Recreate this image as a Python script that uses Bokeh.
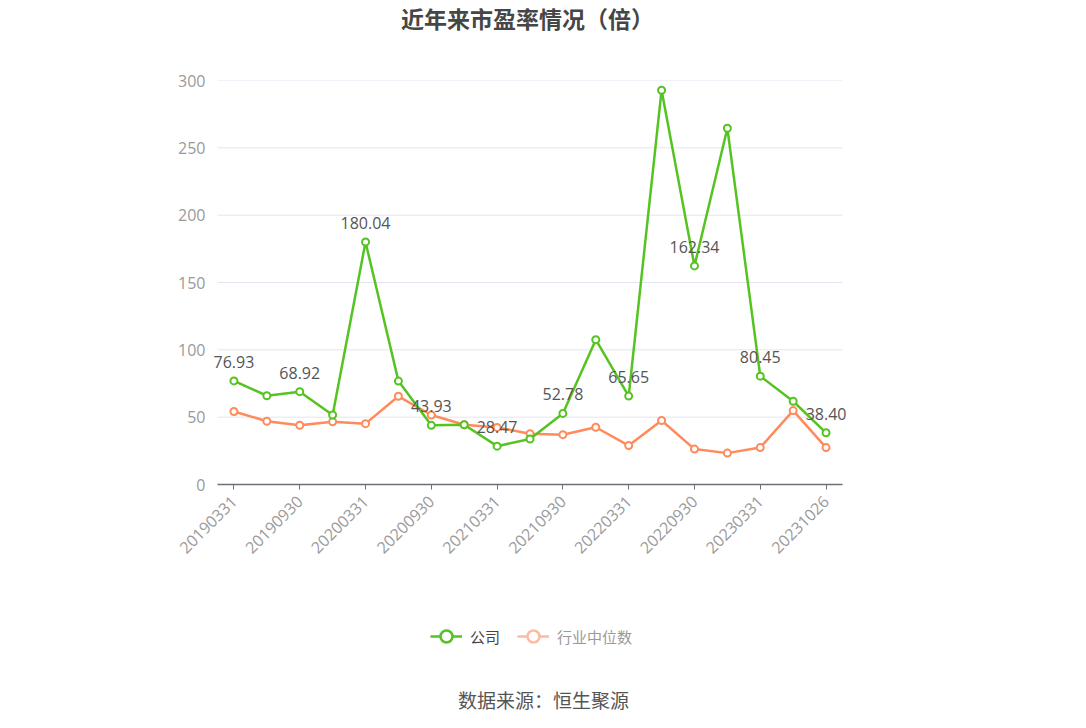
import math
from bokeh.plotting import figure
from bokeh.layouts import column
from bokeh.models import (ColumnDataSource, FixedTicker, Label, Legend, LegendItem, Range1d)
from bokeh.core.properties import value
from bokeh.embed import file_html
from bokeh.resources import INLINE

# ---- data ----
dates = ["20190331", "20190630", "20190930", "20191231", "20200331", "20200630",
         "20200930", "20201231", "20210331", "20210630", "20210930", "20211231",
         "20220331", "20220630", "20220930", "20221231", "20230331", "20230630",
         "20231026"]
company = [76.93, 65.9, 68.92, 51.6, 180.04, 76.8, 43.93, 44.4, 28.47, 33.8,
           52.78, 107.5, 65.65, 292.8, 162.34, 264.5, 80.45, 61.8, 38.40]
industry = [54.2, 47.0, 44.0, 46.6, 45.2, 65.5, 51.6, 44.4, 42.4, 37.7,
            37.0, 42.5, 28.9, 47.5, 26.3, 23.3, 27.4, 54.9, 27.4]
y_ticks = [0, 50, 100, 150, 200, 250, 300]
title_text = "近年来市盈率情况（倍）"
source_text = "数据来源：恒生聚源"
series_names = ["公司", "行业中位数"]

GREEN = "#55C320"
ORANGE = "#FF8A5B"
PALE = "#FDBBA1"
CJK = "Noto Sans CJK SC"
NUM = "Open Sans"
W = 1070
LEFT, RIGHT = 207, 218          # frame borders (px); frame is 645 px wide
FRAME_W = W - LEFT - RIGHT
AXIS_W = 625                    # width of the category band area (px)
n = len(dates)
pad = (FRAME_W - AXIS_W) / 2 / (AXIS_W / n)   # extra room for labels, in category units
CX = 543 - LEFT                 # page centre, relative to frame left
TX = 527 - LEFT                 # title centre, relative to frame left


def blank(h):
    f = figure(width=W, height=h, output_backend="svg", toolbar_location=None,
               x_range=Range1d(0, 1), y_range=Range1d(0, 1),
               x_axis_location=None, y_axis_location=None,
               min_border_left=LEFT, min_border_right=RIGHT,
               min_border_top=0, min_border_bottom=0)
    f.grid.visible = False
    f.outline_line_color = None
    return f


# ---- title ----
top = blank(60)
top.add_layout(Label(x=TX, y=43, x_units="screen", y_units="screen",
                     text=title_text, text_align="center", text_baseline="middle",
                     text_font=CJK, text_font_size="23px", text_font_style="bold",
                     text_color="#464646"))

# ---- main chart ----
xs = list(range(n))
src = ColumnDataSource(dict(x=xs, company=company, industry=industry))
lab_idx = xs[::2]
lab_src = ColumnDataSource(dict(x=lab_idx, y=[company[i] for i in lab_idx],
                                t=["%.2f" % company[i] for i in lab_idx]))
grid_src = ColumnDataSource(dict(x0=[-0.5] * len(y_ticks), x1=[n - 0.5] * len(y_ticks),
                                 y=y_ticks))

p = figure(width=W, height=544, output_backend="svg", toolbar_location=None,
           x_range=Range1d(-0.5 - pad, n - 0.5 + pad), y_range=Range1d(0, 300),
           min_border_left=LEFT, min_border_right=RIGHT, min_border_top=20,
           min_border_bottom=120)
p.outline_line_color = None

p.xaxis.ticker = FixedTicker(ticks=xs[::2])
p.xaxis.bounds = (-0.5, n - 0.5)
p.xaxis.major_label_overrides = {i: dates[i] for i in xs}
p.xaxis.major_label_orientation = math.pi / 4
p.xaxis.axis_line_color = "#6E7079"
p.xaxis.axis_line_width = 1.5
p.xaxis.major_tick_line_color = "#6E7079"
p.xaxis.major_tick_out = 5
p.xaxis.major_tick_in = 0
p.xaxis.minor_tick_line_color = None
p.xaxis.major_label_text_color = "#9A9A9A"
p.xaxis.major_label_text_font = NUM
p.xaxis.major_label_text_font_size = "16px"
p.xaxis.major_label_standoff = 9

p.yaxis.ticker = FixedTicker(ticks=y_ticks)
p.yaxis.axis_line_color = None
p.yaxis.major_tick_line_color = None
p.yaxis.minor_tick_line_color = None
p.yaxis.major_tick_out = 0
p.yaxis.major_label_standoff = 2
p.yaxis.major_label_text_color = "#9A9A9A"
p.yaxis.major_label_text_font = NUM
p.yaxis.major_label_text_font_size = "16px"

p.grid.visible = False
p.segment("x0", "y", "x1", "y", source=grid_src, line_color="#E0E6F1", line_width=1)

p.line("x", "industry", source=src, line_color=ORANGE, line_width=2.5)
p.scatter("x", "industry", source=src, size=7, marker="circle",
          fill_color="white", line_color=ORANGE, line_width=2)
p.line("x", "company", source=src, line_color=GREEN, line_width=2.5)
p.scatter("x", "company", source=src, size=7, marker="circle",
          fill_color="white", line_color=GREEN, line_width=2)

p.text("x", "y", text="t", source=lab_src, text_align="center",
       text_baseline="alphabetic", y_offset=-19, text_color="#555555",
       text_font=value(NUM), text_font_size="16px")

# ---- legend and source ----
bot = blank(108)
nanx = [float("nan")]
l1 = bot.line(nanx, nanx, line_color=GREEN, line_width=2.5)
s1 = bot.scatter(nanx, nanx, marker="circle", fill_color="white",
                 line_color=GREEN, line_width=2.5)
l2 = bot.line(nanx, nanx, line_color=PALE, line_width=2.5)
s2 = bot.scatter(nanx, nanx, marker="circle", fill_color="white",
                 line_color=PALE, line_width=2.5)

for items, loc, col in (([LegendItem(label=series_names[0], renderers=[l1, s1])], (430 - LEFT, 61), "#444444"),
                        ([LegendItem(label=series_names[1], renderers=[l2, s2])], (517 - LEFT, 61), "#9A9A9A")):
    lg = Legend(items=items, location=loc, orientation="horizontal",
                glyph_width=32, glyph_height=30, padding=0, margin=0,
                label_standoff=8, spacing=0,
                label_text_font=CJK, label_text_font_size="15px",
                label_text_color=col, background_fill_alpha=0,
                border_line_color=None)
    bot.add_layout(lg, "center")

bot.add_layout(Label(x=CX, y=13, x_units="screen", y_units="screen",
                     text=source_text, text_align="center", text_baseline="middle",
                     text_font=CJK, text_font_size="19px", text_color="#555555"))

page = column(top, p, bot, spacing=0)
open("out.html", "w").write(file_html(page, INLINE))
